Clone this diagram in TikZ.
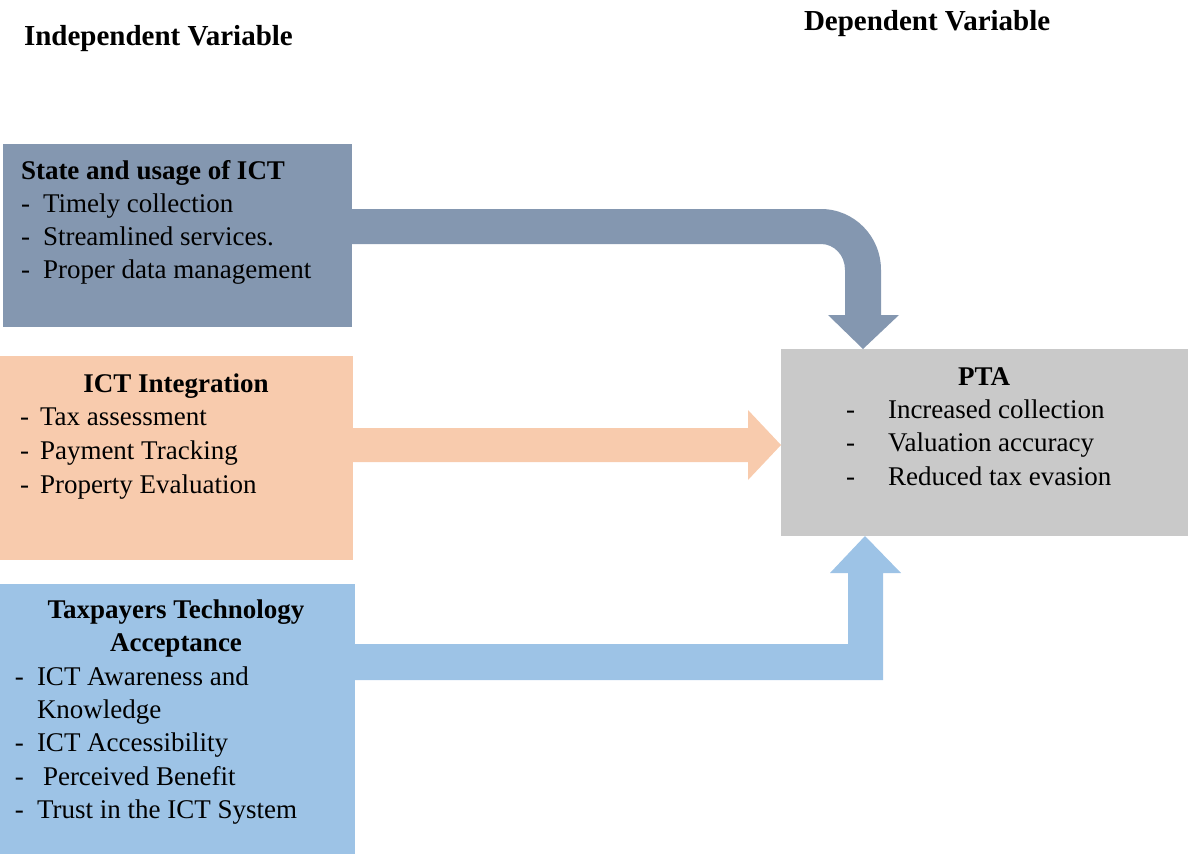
\documentclass[tikz,border=0pt]{standalone}
\usepackage{fontspec}
\setmainfont{Liberation Serif}
\definecolor{cStateBox}{HTML}{8497B0}
\definecolor{cIntBox}{HTML}{F8CBAD}
\definecolor{cAccBox}{HTML}{9DC3E6}
\definecolor{cPtaBox}{HTML}{C9C9C9}
\tikzset{
  panel/.style={rectangle, inner sep=0pt, outer sep=0pt, draw=none},
  txt/.style={inner sep=0pt, outer sep=0pt, anchor=base west, font=\fontsize{27}{33}\selectfont},
  ttl/.style={inner sep=0pt, outer sep=0pt, anchor=base, font=\fontsize{27}{33}\selectfont\bfseries},
  hdr/.style={inner sep=0pt, outer sep=0pt, anchor=base west, font=\fontsize{29}{35}\selectfont\bfseries},
}
\begin{document}
\begin{tikzpicture}[x=1pt,y=-1pt]
\useasboundingbox (0,0) rectangle (1192,854);
% panels
\node[panel, fill=cStateBox, minimum width=349pt, minimum height=183pt] (b1) at (177.5,235.5) {};
\node[panel, fill=cIntBox, minimum width=353pt, minimum height=204pt] (b2) at (176.5,458) {};
\node[panel, fill=cAccBox, minimum width=355pt, minimum height=270pt] (b3) at (177.5,719) {};
\node[panel, fill=cPtaBox, minimum width=407pt, minimum height=187pt] (pta) at (984.5,442.5) {};
% connectors (block arrows)
\fill[cStateBox] (b1.east |- 0,209) -- (821,209)
  .. controls (854,209) and (881,236) .. (881,270)
  -- (881,315) -- (899,315) -- (pta.north -| 863,0) -- (828,315) -- (845,315) -- (845,270)
  .. controls (845,255) and (834,244) .. (821,244)
  -- (b1.east |- 0,244) -- cycle;
\fill[cIntBox] (b2.east |- 0,428) -- (748,428) -- (748,410) -- (pta.west |- 0,445) -- (748,480) -- (748,462) -- (b2.east |- 0,462) -- cycle;
\fill[cAccBox] (b3.east |- 0,644) -- (848,644) -- (848,573) -- (830,573) -- (pta.south -| 865,0) -- (901,573) -- (883,573) -- (883,680) -- (b3.east |- 0,680) -- cycle;
% headers
\node[hdr] (hIndep) at (24,45) {Independent Variable};
\node[hdr] (hDep) at (804,30) {Dependent Variable};
% box 1
\node[txt, font=\fontsize{27}{33}\selectfont\bfseries] (t1) at (21,179) {State and usage of ICT};
\node[txt] (d11) at (21,212) {-};
\node[txt] (i11) at (43,212) {Timely collection};
\node[txt] (d12) at (21,245) {-};
\node[txt] (i12) at (43,245) {Streamlined services.};
\node[txt] (d13) at (21,278) {-};
\node[txt] (i13) at (43,278) {Proper data management};
% box 2
\node[ttl] (t2) at (176,392) {ICT Integration};
\node[txt] (d21) at (20,425) {-};
\node[txt] (i21) at (40,425) {Tax assessment};
\node[txt] (d22) at (20,459) {-};
\node[txt] (i22) at (40,459) {Payment Tracking};
\node[txt] (d23) at (20,493) {-};
\node[txt] (i23) at (40,493) {Property Evaluation};
% box 3
\node[ttl] (t3a) at (176,618) {Taxpayers Technology};
\node[ttl] (t3b) at (176,651) {Acceptance};
\node[txt] (d31) at (15,685) {-};
\node[txt] (i31) at (37,685) {ICT Awareness and};
\node[txt] (i31b) at (37,718) {Knowledge};
\node[txt] (d32) at (15,751) {-};
\node[txt] (i32) at (37,751) {ICT Accessibility};
\node[txt] (d33) at (15,785) {-};
\node[txt] (i33) at (43,785) {Perceived Benefit};
\node[txt] (d34) at (15,818) {-};
\node[txt] (i34) at (37,818) {Trust in the ICT System};
% PTA
\node[ttl] (t4) at (984,385) {PTA};
\node[txt] (d41) at (846,418) {-};
\node[txt] (i41) at (888,418) {Increased collection};
\node[txt] (d42) at (846,451) {-};
\node[txt] (i42) at (888,451) {Valuation accuracy};
\node[txt] (d43) at (846,485) {-};
\node[txt] (i43) at (888,485) {Reduced tax evasion};
\end{tikzpicture}
\end{document}
